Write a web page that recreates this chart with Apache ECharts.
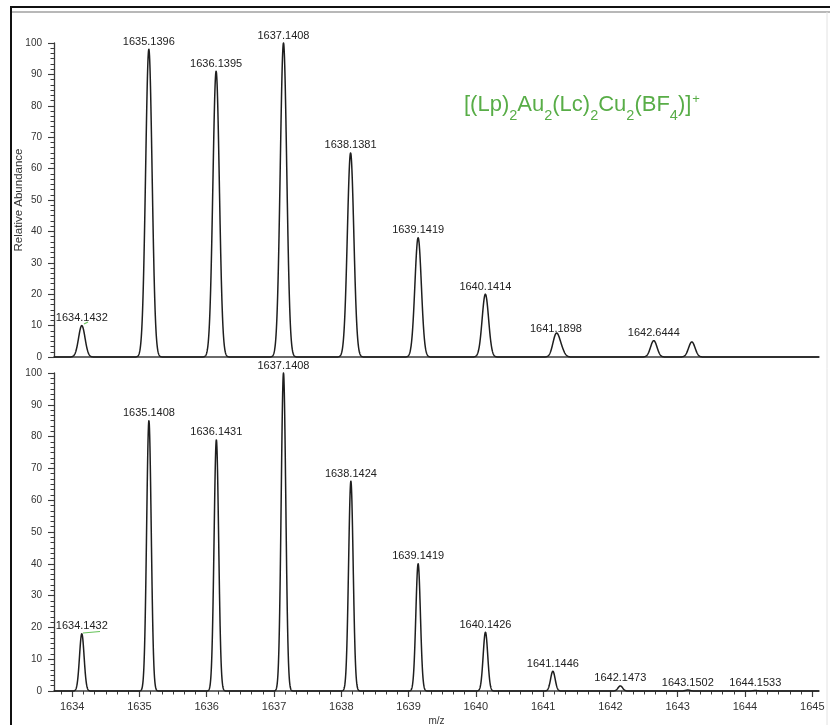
<!DOCTYPE html>
<html>
<head>
<meta charset="utf-8">
<script src="https://cdn.jsdelivr.net/npm/echarts@6/dist/echarts.min.js"></script>
<style>
  html, body { margin: 0; padding: 0; background: #fff; }
  #chart { width: 830px; height: 725px; }
</style>
</head>
<body>
<div id="chart"></div>
<script>
// Upper trace: labelled centroids (m/z) and relative abundance (%)
const topMz = [1634.1432, 1635.1396, 1636.1395, 1637.1408, 1638.1381, 1639.1419, 1640.1414, 1641.1898, 1642.6444];
const topAbund = [10, 98, 91, 100, 65, 38, 20, 6.6, 5.2];
// Upper trace: unlabelled features (shoulder and a small peak)
const topExtraMz = [1641.26, 1643.21];
const topExtraAbund = [2.6, 4.8];

// Lower trace: labelled centroids (m/z) and relative abundance (%)
const bottomMz = [1634.1432, 1635.1408, 1636.1431, 1637.1408, 1638.1424, 1639.1419, 1640.1426, 1641.1446, 1642.1473, 1643.1502, 1644.1533];
const bottomAbund = [18, 85, 79, 100, 66, 40, 18.5, 6.2, 1.6, 0.3, 0.15];

// Axis tick labels
const xTickLabels = ['1634', '1635', '1636', '1637', '1638', '1639', '1640', '1641', '1642', '1643', '1644', '1645'];
const yTickLabels = ['0', '10', '20', '30', '40', '50', '60', '70', '80', '90', '100'];

const FORMULA = '[(Lp){s|2}Au{s|2}(Lc){s|2}Cu{s|2}(BF{s|4})]{p|+}';

const X_MIN = 1633.73, X_MAX = 1645.1;
const FONT = '"Liberation Sans", Arial, sans-serif';
const INK = '#1e1e1e';
const AXIS = '#3a3a3a';
const GREEN = '#58ad47';

const majorTicks = xTickLabels.map(Number);
const minorTicks = [];
for (let v = Math.ceil(X_MIN * 6); v <= Math.floor(X_MAX * 6); v++) {
  if (v % 6 !== 0) minorTicks.push(v / 6);
}

// Profile spectrum drawn from the peak list through the grid's scales
function spectrum(idx, mzs, abunds, extraMz, extraAbund, sigma) {
  const peaks = mzs.map((m, i) => [m, abunds[i]])
    .concat(extraMz.map((m, i) => [m, extraAbund[i]]));
  return {
    type: 'custom',
    xAxisIndex: idx * 2,
    yAxisIndex: idx,
    data: mzs.map((m, i) => [m, abunds[i]]),
    silent: true,
    renderItem(params, api) {
      const children = [];
      if (params.dataIndex === 0) {
        const pts = [];
        const step = 0.003;
        for (let x = X_MIN; x <= X_MAX; x += step) {
          let y = 0;
          for (const [m, h] of peaks) {
            const d = (x - m) / sigma;
            if (Math.abs(d) < 6) y += h * Math.exp(-0.5 * d * d);
          }
          pts.push(api.coord([x, y]));
        }
        children.push({
          type: 'polyline',
          shape: { points: pts },
          style: { stroke: INK, lineWidth: 1.5, fill: null, lineJoin: 'round' }
        });
      }
      const m = api.value(0), h = api.value(1);
      const p = api.coord([m, h]);
      children.push({
        type: 'text',
        x: p[0], y: p[1] - 2,
        style: {
          text: m.toFixed(4),
          align: 'center', verticalAlign: 'bottom',
          font: '11px ' + FONT, fill: '#222'
        }
      });
      return { type: 'group', children };
    }
  };
}

function xAxes(gridIndex, labelled) {
  return [
    {
      type: 'value', gridIndex, min: X_MIN, max: X_MAX, position: 'bottom',
      axisLine: { show: true, onZero: false, lineStyle: { color: AXIS, width: 1.6 } },
      axisTick: { show: labelled, customValues: majorTicks, length: 6, lineStyle: { color: AXIS, width: 1.2 } },
      axisLabel: {
        show: labelled, customValues: majorTicks, margin: 10,
        fontSize: 11, fontFamily: FONT, color: '#333',
        formatter: v => xTickLabels[majorTicks.indexOf(Math.round(v))] || ''
      },
      splitLine: { show: false },
      name: labelled ? 'm/z' : '', nameLocation: 'middle', nameGap: 25,
      nameTextStyle: { fontSize: 10, fontFamily: FONT, color: '#333' }
    },
    {
      type: 'value', gridIndex, min: X_MIN, max: X_MAX, position: 'bottom',
      axisLine: { show: false },
      axisTick: { show: labelled, customValues: minorTicks, length: 3.5, lineStyle: { color: AXIS, width: 1 } },
      axisLabel: { show: false },
      splitLine: { show: false }
    }
  ];
}

function yAxis(gridIndex, named) {
  return {
    type: 'value', gridIndex, min: 0, max: 100, interval: 10,
    axisLine: { show: true, lineStyle: { color: AXIS, width: 1.3 } },
    axisTick: { show: true, length: 6, lineStyle: { color: AXIS, width: 1.1 } },
    minorTick: { show: true, splitNumber: 6, length: 3.5, lineStyle: { color: AXIS, width: 1 } },
    axisLabel: {
      margin: 12, fontSize: 10, fontFamily: FONT, color: '#333',
      formatter: v => yTickLabels[Math.round(v / 10)]
    },
    splitLine: { show: false },
    name: named ? 'Relative Abundance' : '',
    nameLocation: 'middle', nameGap: 29, nameMoveOverlap: false,
    nameTextStyle: { fontSize: 11.5, fontFamily: FONT, color: '#333' }
  };
}

const chart = echarts.init(document.getElementById('chart'), null, { renderer: 'canvas' });
chart.setOption({
  backgroundColor: '#fff',
  animation: false,
  title: {
    text: FORMULA,
    left: 459, top: 85,
    textStyle: {
      fontFamily: FONT, fontSize: 22, fontWeight: 'normal', color: GREEN, lineHeight: 30,
      rich: {
        s: { fontSize: 14.5, fontFamily: FONT, color: GREEN, verticalAlign: 'bottom', lineHeight: 30, padding: [0, 0, -3, 0] },
        p: { fontSize: 13, fontFamily: FONT, color: GREEN, verticalAlign: 'top', lineHeight: 30, padding: [3, 0, 0, 1] }
      }
    }
  },
  grid: [
    { left: 54, top: 43, width: 765, height: 314, outerBoundsMode: 'none', containLabel: false },
    { left: 54, top: 373, width: 765, height: 318, outerBoundsMode: 'none', containLabel: false }
  ],
  xAxis: xAxes(0, false).concat(xAxes(1, true)),
  yAxis: [yAxis(0, true), yAxis(1, false)],
  series: [
    spectrum(0, topMz, topAbund, topExtraMz, topExtraAbund, 0.048),
    spectrum(1, bottomMz, bottomAbund, [], [], 0.034)
  ],
  graphic: [
    { type: 'line', shape: { x1: 10, y1: 7, x2: 830, y2: 7 }, style: { stroke: '#111', lineWidth: 2 } },
    { type: 'line', shape: { x1: 11, y1: 12, x2: 830, y2: 12 }, style: { stroke: '#a0a0a0', lineWidth: 1.5 } },
    { type: 'line', shape: { x1: 11, y1: 6, x2: 11, y2: 725 }, style: { stroke: '#111', lineWidth: 2 } },
    { type: 'line', shape: { x1: 827, y1: 12, x2: 827, y2: 725 }, style: { stroke: '#e2e2e2', lineWidth: 1 } },
    { type: 'line', shape: { x1: 84, y1: 324, x2: 88, y2: 322 }, style: { stroke: '#66c25a', lineWidth: 1.2 } },
    { type: 'line', shape: { x1: 83, y1: 633, x2: 100, y2: 631.5 }, style: { stroke: '#66c25a', lineWidth: 1.2 } }
  ]
});
</script>
</body>
</html>
